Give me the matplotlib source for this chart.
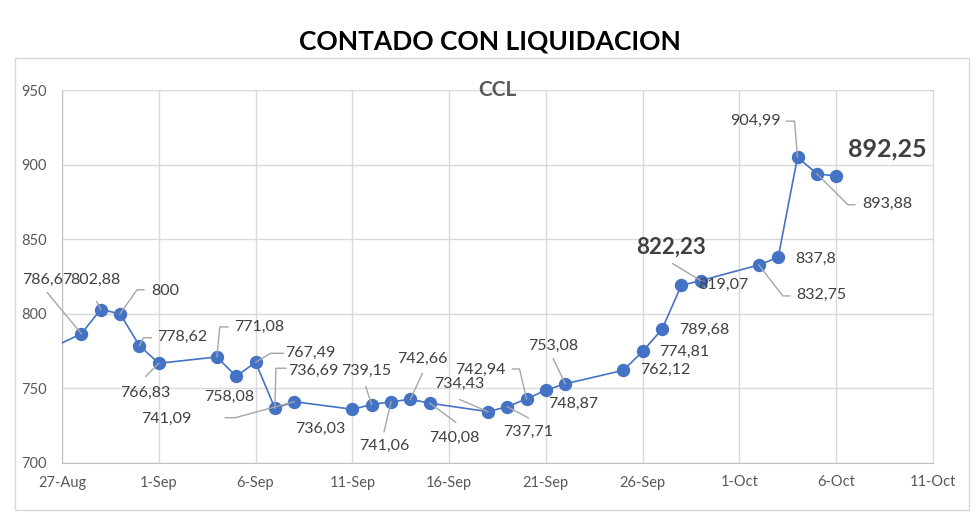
import matplotlib
matplotlib.use("Agg")
import matplotlib.pyplot as plt
import matplotlib.dates as mdates
import matplotlib.transforms as mtransforms
from matplotlib.lines import Line2D
from matplotlib.patches import Rectangle
from datetime import datetime

plt.rcParams['font.family'] = ['Lato', 'DejaVu Sans']

# CCL diario (el primer punto queda fuera del eje, como en el original)
fechas = ['2023-08-25', '2023-08-28', '2023-08-29', '2023-08-30', '2023-08-31',
          '2023-09-01', '2023-09-04', '2023-09-05', '2023-09-06', '2023-09-07',
          '2023-09-08', '2023-09-11', '2023-09-12', '2023-09-13', '2023-09-14',
          '2023-09-15', '2023-09-18', '2023-09-19', '2023-09-20', '2023-09-21',
          '2023-09-22', '2023-09-25', '2023-09-26', '2023-09-27', '2023-09-28',
          '2023-09-29', '2023-10-02', '2023-10-03', '2023-10-04', '2023-10-05',
          '2023-10-06']
ccl = [768.0, 786.67, 802.88, 800, 778.62, 766.83, 771.08, 758.08, 767.49, 736.69,
       741.09, 736.03, 739.15, 741.06, 742.66, 740.08, 734.43, 737.71, 742.94, 748.87,
       753.08, 762.12, 774.81, 789.68, 819.07, 822.23, 832.75, 837.8, 904.99, 893.88,
       892.25]

xticks = ['2023-08-27', '2023-09-01', '2023-09-06', '2023-09-11', '2023-09-16',
          '2023-09-21', '2023-09-26', '2023-10-01', '2023-10-06', '2023-10-11']
xtick_labels = ['27-Aug', '1-Sep', '6-Sep', '11-Sep', '16-Sep', '21-Sep',
                '26-Sep', '1-Oct', '6-Oct', '11-Oct']
yticks = [700, 750, 800, 850, 900, 950]

# posicion de etiquetas: (dx, dy) en pixeles (dy hacia abajo), vertices de la linea guia
etiquetas = {
    1: ((-34, -54), [(-34, -41)]),
    2: ((-5, -30), [(-4, -8)]),
    3: ((45, -23), [(24, -24), (17, -24)]),
    4: ((43, -9), [(12, -8), (4, -8)]),
    5: ((-14, 30), [(-13, 13)]),
    6: ((42, -30), [(11, -30), (3, -30)]),
    7: ((-7, 21), None),
    8: ((55, -9), [(28, -9), (15, -9)]),
    9: ((38, -37), [(11, -40), (1, -40)]),
    10: ((-128, 17), [(-69, 16), (-59, 16)]),
    11: ((-32, 20), None),
    12: ((-6, -34), [(-6, -18)]),
    13: ((-7, 44), [(-7, 30)]),
    14: ((12, -40), [(12, -26)]),
    15: ((25, 35), [(26, 19)]),
    16: ((-29, -28), [(-28, -12)]),
    17: ((21, 25), [(21, 11)]),
    18: ((-46, -29), [(-14, -30), (-7, -30)]),
    19: ((27, 14), None),
    20: ((-12, -38), [(-12, -25)]),
    21: ((42, 0), None),
    22: ((42, 1), None),
    23: ((42, 1), None),
    24: ((42, 0), None),
    25: ((-30, -33), [(-28, -17)]),
    26: ((63, 30), [(31, 31), (24, 31)]),
    27: ((37, 1), None),
    28: ((-42, -36), [(-11, -36), (-3, -36)]),
    29: ((70, 30), [(38, 31), (31, 31)]),
    30: ((51, -27), None),
}
destacados = {25: 16, 30: 18}

fig = plt.figure(figsize=(9.8, 5.14), dpi=100)
fig.patches.append(Rectangle((15 / 980, 4 / 514), 954 / 980, 452 / 514,
                             transform=fig.transFigure, fill=False,
                             edgecolor='#d9d9d9', lw=1.0))
fig.text(0.5, 0.92, 'CONTADO CON LIQUIDACION', ha='center', va='center',
         fontsize=19, fontweight='bold', color='black')

ax = fig.add_axes([62 / 980, 51 / 514, 871 / 980, 373 / 514])
x = [mdates.date2num(datetime.strptime(f, '%Y-%m-%d')) for f in fechas]
xt = [mdates.date2num(datetime.strptime(f, '%Y-%m-%d')) for f in xticks]

ax.plot(x, ccl, color='#4472C4', lw=1.2, marker='o', markersize=8.6,
        markerfacecolor='#4472C4', markeredgecolor='#4472C4', zorder=4)

ax.set_xlim(xt[0], xt[-1])
ax.set_ylim(700, 950)
ax.set_xticks(xt)
ax.set_xticklabels(xtick_labels)
ax.set_yticks(yticks)
ax.grid(True, color='#d9d9d9', lw=1.0)
ax.set_axisbelow(True)
for s in ['top', 'right']:
    ax.spines[s].set_color('#d9d9d9')
for s in ['left', 'bottom']:
    ax.spines[s].set_color('#bfbfbf')
ax.tick_params(length=0, labelsize=10.5, colors='#595959')
ax.tick_params(axis='x', pad=9)
ax.tick_params(axis='y', pad=11)

ax.text(0.5, 1.0, 'CCL', transform=ax.transAxes, ha='center', va='center',
        fontsize=15, fontweight='bold', color='#595959', zorder=5)

for i, ((dx, dy), guia) in etiquetas.items():
    v = ccl[i]
    txt = f'{v:g}'.replace('.', ',')
    peso = 'bold' if i in destacados else 'normal'
    tam = destacados.get(i, 11.5)
    ax.annotate(txt, (x[i], v), xytext=(dx, -dy), textcoords='offset pixels',
                ha='center', va='center', fontsize=tam, fontweight=peso,
                color='#404040', zorder=5)
    if guia:
        px, py = ax.transData.transform((x[i], v))
        xs = [px + gx for gx, gy in guia] + [px]
        ys = [py - gy for gx, gy in guia] + [py]
        fig.add_artist(Line2D(xs, ys, color='#a6a6a6', lw=1.0,
                              transform=mtransforms.IdentityTransform(), zorder=3))

fig.savefig('out.png', dpi=100)
